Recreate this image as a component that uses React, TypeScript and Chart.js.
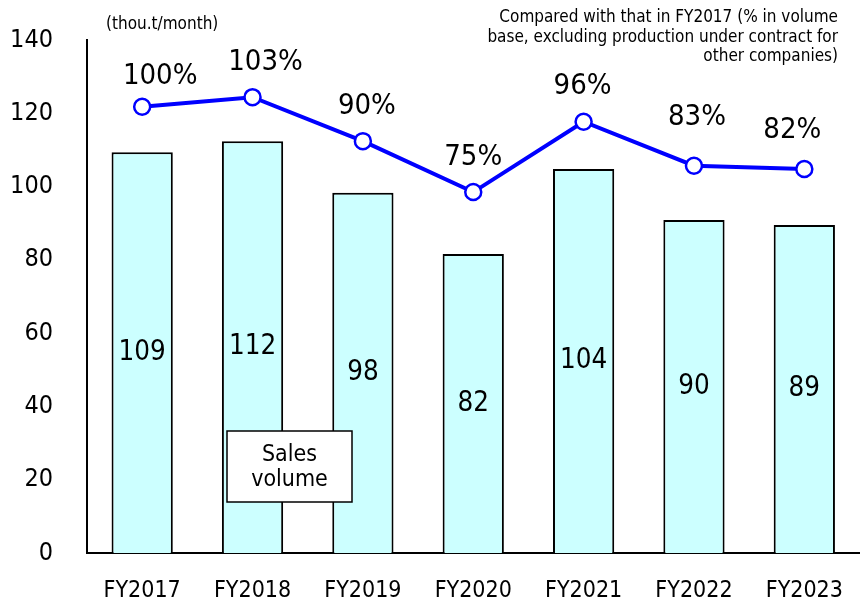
import React, { useEffect, useRef } from "react";
import { Chart, registerables } from "chart.js";

Chart.register(...registerables);

const categories = ["FY2017", "FY2018", "FY2019", "FY2020", "FY2021", "FY2022", "FY2023"];
const salesVolume = [109.4, 112.4, 98.3, 81.6, 104.8, 90.9, 89.5];
const salesLabels = ["109", "112", "98", "82", "104", "90", "89"];
const ratioPoints = [121.8, 124.4, 112.4, 98.5, 117.7, 105.7, 104.8];
const ratioLabels = ["100%", "103%", "90%", "75%", "96%", "83%", "82%"];
const yMin = 0;
const yMax = 140;
const yStep = 20;
const unitText = "(thou.t/month)";
const noteLines = [
  "Compared with that in FY2017 (% in volume",
  "base, excluding production under contract for",
  "other companies)",
];
const legendLines = ["Sales", "volume"];

const FONT = "'DejaVu Sans Condensed', 'DejaVu Sans', sans-serif";
const labelDx = [18, 13, 4, 0, -1, 3, -12];
const labelDy = [-30, -35, -35, -35, -35, -48, -39];

const labelPlugin = {
  id: "customLabels",
  afterDatasetsDraw(chart: any) {
    const ctx = chart.ctx;
    ctx.save();
    const barMeta = chart.getDatasetMeta(1);
    ctx.fillStyle = "#000";
    ctx.textAlign = "center";
    ctx.textBaseline = "middle";
    ctx.font = `27.5px ${FONT}`;
    barMeta.data.forEach((el: any, i: number) => {
      ctx.fillText(salesLabels[i], el.x, (el.y + el.base) / 2);
    });
    ctx.font = `29px ${FONT}`;
    const lineMeta = chart.getDatasetMeta(0);
    lineMeta.data.forEach((el: any, i: number) => {
      ctx.fillText(ratioLabels[i], el.x + labelDx[i], el.y + labelDy[i]);
    });
    ctx.restore();
  },
  afterDraw(chart: any) {
    const ctx = chart.ctx;
    ctx.save();
    ctx.fillStyle = "#000";
    ctx.font = `17px ${FONT}`;
    ctx.textBaseline = "middle";
    ctx.textAlign = "left";
    ctx.fillText(unitText, 106, 25);
    ctx.textAlign = "right";
    noteLines.forEach((t, i) => ctx.fillText(t, 838, 18 + i * 19.5));
    // legend box
    ctx.fillStyle = "#fff";
    ctx.fillRect(227, 431, 125, 71);
    ctx.strokeStyle = "#000";
    ctx.lineWidth = 1.5;
    ctx.strokeRect(227, 431, 125, 71);
    ctx.fillStyle = "#000";
    ctx.textAlign = "center";
    ctx.font = `23px ${FONT}`;
    ctx.fillText(legendLines[0], 289.5, 455);
    ctx.fillText(legendLines[1], 289.5, 480);
    ctx.restore();
  },
};

export default function App() {
  const ref = useRef<HTMLCanvasElement>(null);
  useEffect(() => {
    if (!ref.current) return;
    const chart = new Chart(ref.current, {
      type: "bar",
      data: {
        labels: categories,
        datasets: [
          {
            type: "line",
            data: ratioPoints,
            borderColor: "#0000FF",
            borderWidth: 4,
            pointRadius: 8,
            pointBorderWidth: 2.5,
            pointBackgroundColor: "#FFFFFF",
            pointBorderColor: "#0000FF",
            order: 0,
          } as any,
          {
            type: "bar",
            data: salesVolume,
            backgroundColor: "#CCFFFF",
            borderColor: "#000000",
            borderWidth: 2,
            categoryPercentage: 1,
            barPercentage: 0.555,
            order: 1,
          },
        ],
      },
      options: {
        responsive: false,
        animation: false,
        layout: { padding: { top: 40, left: 0, right: 0, bottom: 0 } },
        plugins: { legend: { display: false }, tooltip: { enabled: false } },
        scales: {
          x: {
            grid: { display: false, drawTicks: false },
            border: { display: true, color: "#000", width: 2 },
            ticks: { color: "#000", font: { family: FONT, size: 23 }, padding: 24 },
            afterFit(scale: any) {
              scale.height = 47;
              scale.paddingLeft = 0;
              scale.paddingRight = 0;
            },
          },
          y: {
            min: yMin,
            max: yMax,
            grid: { display: false, drawTicks: false },
            border: { display: true, color: "#000", width: 2 },
            ticks: { stepSize: yStep, color: "#000", font: { family: FONT, size: 25 }, padding: 34 },
            afterFit(scale: any) {
              scale.width = 87;
              scale.paddingTop = 0;
              scale.paddingBottom = 0;
            },
          },
        },
      },
      plugins: [labelPlugin],
    });
    return () => chart.destroy();
  }, []);
  return (
    <div style={{ position: "absolute", left: 0, top: 0, width: 864, height: 600, overflow: "hidden", background: "#fff" }}>
      <canvas ref={ref} width={870} height={600} style={{ display: "block" }} />
    </div>
  );
}
